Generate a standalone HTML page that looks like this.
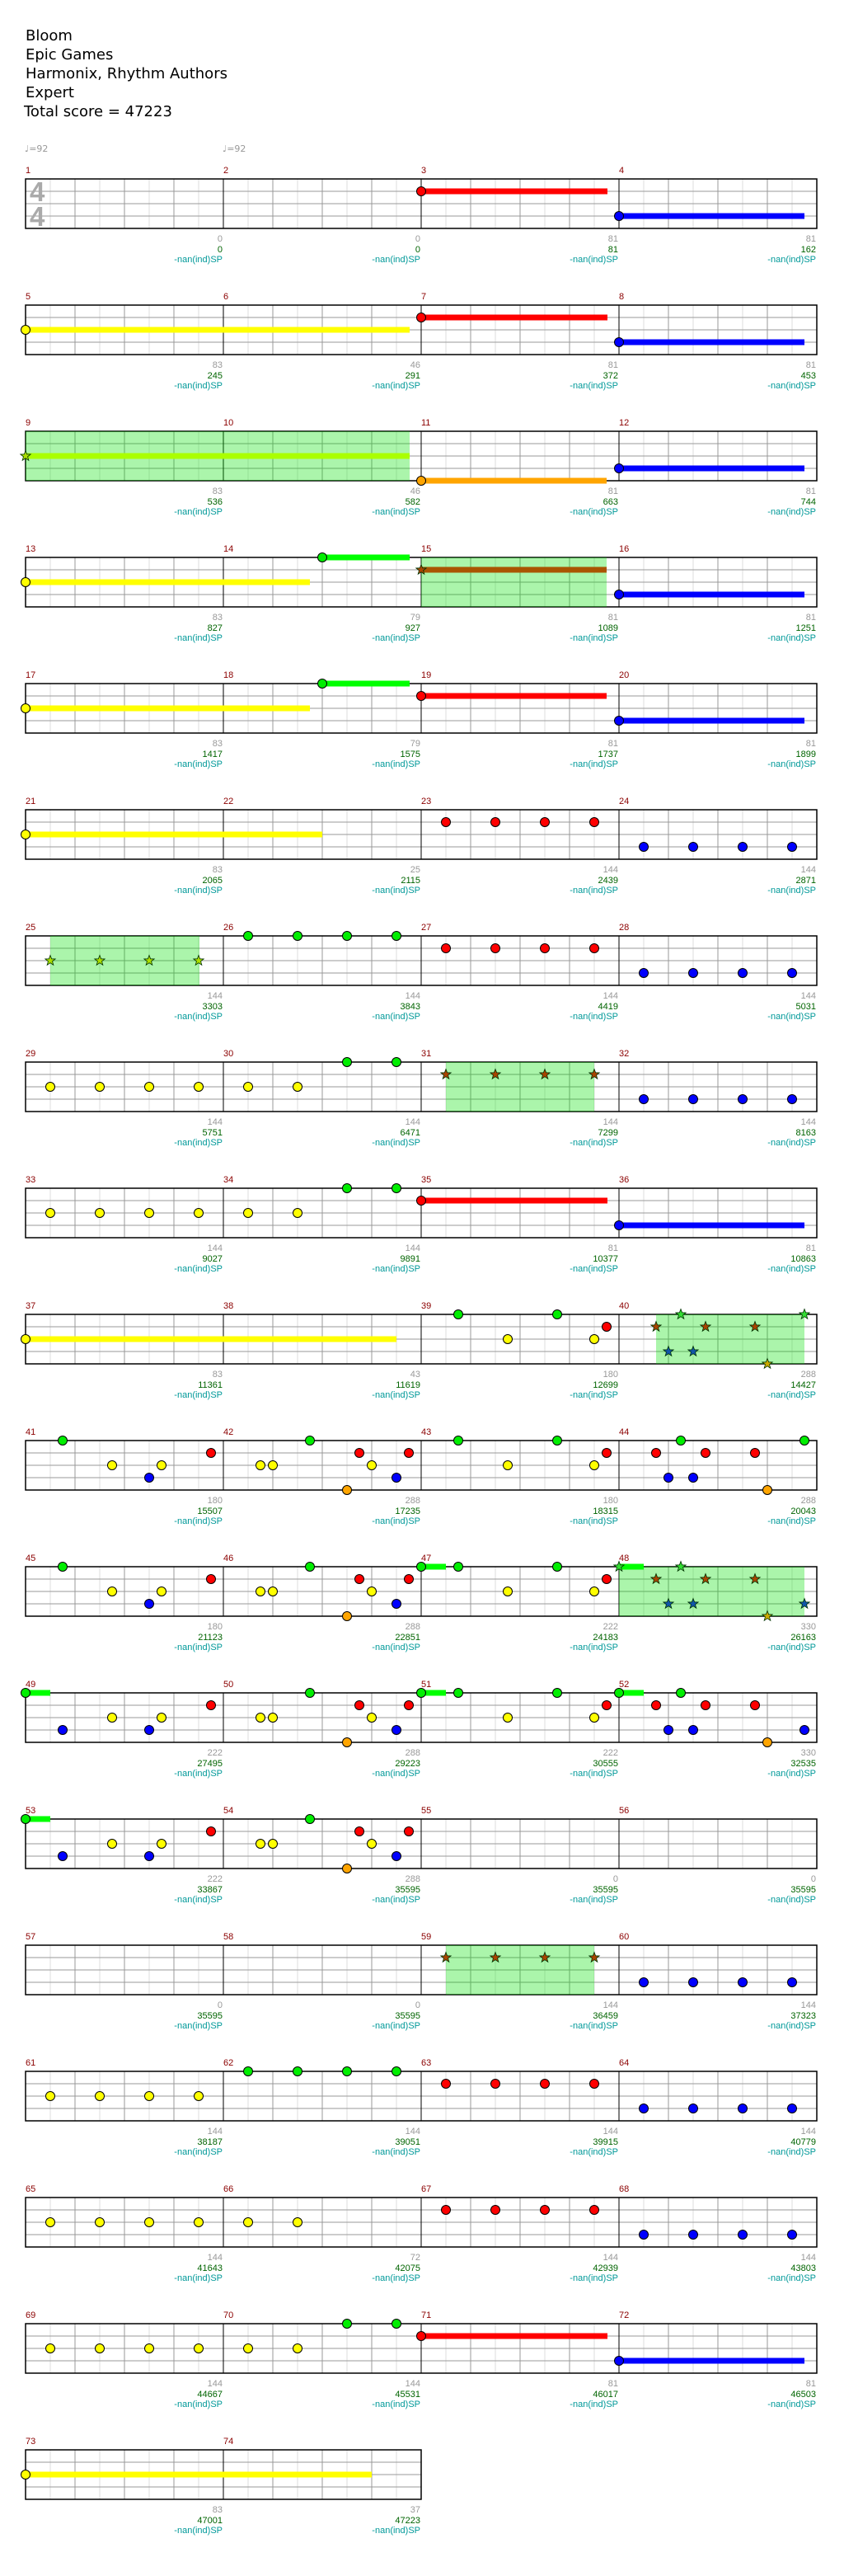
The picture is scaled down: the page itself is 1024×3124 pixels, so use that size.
<!DOCTYPE html>
<html><head><meta charset="utf-8"><style>
html,body{margin:0;padding:0;background:#fff}
svg{display:block}
.t{font-family:"DejaVu Sans","Liberation Sans",sans-serif;font-size:18px;fill:#000}
.mn{font-family:"Liberation Sans",sans-serif;font-size:11px;fill:#8b0000}
.g{font-family:"Liberation Sans",sans-serif;font-size:11px;fill:#999;text-anchor:end}
.s{font-family:"Liberation Sans",sans-serif;font-size:11px;fill:#006400;text-anchor:end}
.p{font-family:"Liberation Sans",sans-serif;font-size:11px;fill:#009999;text-anchor:end}
</style></head><body>
<svg width="1024" height="3124" viewBox="0 0 1024 3124" xmlns="http://www.w3.org/2000/svg">
<defs>
<g id="st4">
<path d="M61,0v60M121,0v60M181,0v60M241,0v60M301,0v60M361,0v60M421,0v60M481,0v60M541,0v60M601,0v60M661,0v60M721,0v60M781,0v60M841,0v60M901,0v60M961,0v60" stroke="#ddd" stroke-width="1"/>
<path d="M91,0v60M151,0v60M211,0v60M331,0v60M391,0v60M451,0v60M571,0v60M631,0v60M691,0v60M811,0v60M871,0v60M931,0v60M31,15H991M31,30H991M31,45H991" stroke="#999" stroke-width="1"/>
<path d="M271,0v60M511,0v60M751,0v60" stroke="#000" stroke-width="1"/>
<rect x="31" y="0" width="960" height="60" fill="none" stroke="#000" stroke-width="1.5"/>
</g>
<g id="st2">
<path d="M61,0v60M121,0v60M181,0v60M241,0v60M301,0v60M361,0v60M421,0v60M481,0v60" stroke="#ddd" stroke-width="1"/>
<path d="M91,0v60M151,0v60M211,0v60M331,0v60M391,0v60M451,0v60M31,15H511M31,30H511M31,45H511" stroke="#999" stroke-width="1"/>
<path d="M271,0v60" stroke="#000" stroke-width="1"/>
<rect x="31" y="0" width="480" height="60" fill="none" stroke="#000" stroke-width="1.5"/>
</g>
<circle id="G" r="5.5" fill="#00ee00" stroke="#000" stroke-width="1"/>
<circle id="R" r="5.5" fill="#ff0000" stroke="#000" stroke-width="1"/>
<circle id="Y" r="5.5" fill="#ffff00" stroke="#000" stroke-width="1"/>
<circle id="B" r="5.5" fill="#0000ff" stroke="#000" stroke-width="1"/>
<circle id="O" r="5.5" fill="#ffa500" stroke="#000" stroke-width="1"/>
<path id="star" d="M0,-6.5L1.59,-2.18 6.18,-2.01 2.57,0.83 3.82,5.26 0,2.7 -3.82,5.26 -2.57,0.83 -6.18,-2.01 -1.59,-2.18Z" stroke="#003300" stroke-width="0.8"/>
<g id="sG"><use href="#star" fill="#33dd33"/></g>
<g id="sR"><use href="#star" fill="#aa4400"/></g>
<g id="sY"><use href="#star" fill="#aadd00"/></g>
<g id="sB"><use href="#star" fill="#1155aa"/></g>
<g id="sO"><use href="#star" fill="#ccaa00"/></g>
<g id="p41"><use href="#G" x="76" y="0"/><use href="#Y" x="136" y="30"/><use href="#B" x="181" y="45"/><use href="#Y" x="196" y="30"/><use href="#R" x="256" y="15"/></g>
<g id="p42"><use href="#Y" x="316" y="30"/><use href="#Y" x="331" y="30"/><use href="#G" x="376" y="0"/><use href="#O" x="421" y="60"/><use href="#R" x="436" y="15"/><use href="#Y" x="451" y="30"/><use href="#B" x="481" y="45"/><use href="#R" x="496" y="15"/></g>
<g id="p43"><use href="#G" x="556" y="0"/><use href="#Y" x="616" y="30"/><use href="#G" x="676" y="0"/><use href="#Y" x="721" y="30"/><use href="#R" x="736" y="15"/></g>
<g id="p47"><rect x="511" y="-3.5" width="30" height="7" fill="#00ff00"/><use href="#G" x="511" y="0"/><use href="#p43"/></g>
<g id="p49"><rect x="31" y="-3.5" width="30" height="7" fill="#00ff00"/><use href="#G" x="31" y="0"/><use href="#B" x="76" y="45"/><use href="#Y" x="136" y="30"/><use href="#B" x="181" y="45"/><use href="#Y" x="196" y="30"/><use href="#R" x="256" y="15"/></g>
</defs>

<text class="t" x="31" y="49">Bloom</text>
<text class="t" x="31" y="72">Epic Games</text>
<text class="t" x="31" y="95">Harmonix, Rhythm Authors</text>
<text class="t" x="31" y="118">Expert</text>
<text class="t" x="29" y="141">Total score = 47223</text>
<text x="30" y="184" font-family="DejaVu Sans,sans-serif" font-size="11" fill="#999">♩=92</text>
<text x="270" y="184" font-family="DejaVu Sans,sans-serif" font-size="11" fill="#999">♩=92</text>

<!-- Row 0 -->
<g transform="translate(0,217)">
<use href="#st4"/>
<text x="36" y="27" font-family="Liberation Sans,sans-serif" font-weight="bold" font-size="33" fill="#aaa">4</text>
<text x="36" y="57" font-family="Liberation Sans,sans-serif" font-weight="bold" font-size="33" fill="#aaa">4</text>
<rect x="511" y="11.5" width="226" height="7" fill="#f00"/><use href="#R" x="511" y="15"/>
<rect x="751" y="41.5" width="225" height="7" fill="#00f"/><use href="#B" x="751" y="45"/>
<text class="mn" x="31" y="-7">1</text><text class="mn" x="271" y="-7">2</text><text class="mn" x="511" y="-7">3</text><text class="mn" x="751" y="-7">4</text>
<text class="g" x="270" y="76">0</text><text class="s" x="270" y="89">0</text><text class="p" x="270" y="101">-nan(ind)SP</text>
<text class="g" x="510" y="76">0</text><text class="s" x="510" y="89">0</text><text class="p" x="510" y="101">-nan(ind)SP</text>
<text class="g" x="750" y="76">81</text><text class="s" x="750" y="89">81</text><text class="p" x="750" y="101">-nan(ind)SP</text>
<text class="g" x="990" y="76">81</text><text class="s" x="990" y="89">162</text><text class="p" x="990" y="101">-nan(ind)SP</text>
</g>

<!-- Row 1 -->
<g transform="translate(0,370)">
<use href="#st4"/>
<rect x="31" y="26.5" width="466" height="7" fill="#ff0"/><use href="#Y" x="31" y="30"/>
<rect x="511" y="11.5" width="226" height="7" fill="#f00"/><use href="#R" x="511" y="15"/>
<rect x="751" y="41.5" width="225" height="7" fill="#00f"/><use href="#B" x="751" y="45"/>
<text class="mn" x="31" y="-7">5</text><text class="mn" x="271" y="-7">6</text><text class="mn" x="511" y="-7">7</text><text class="mn" x="751" y="-7">8</text>
<text class="g" x="270" y="76">83</text><text class="s" x="270" y="89">245</text><text class="p" x="270" y="101">-nan(ind)SP</text>
<text class="g" x="510" y="76">46</text><text class="s" x="510" y="89">291</text><text class="p" x="510" y="101">-nan(ind)SP</text>
<text class="g" x="750" y="76">81</text><text class="s" x="750" y="89">372</text><text class="p" x="750" y="101">-nan(ind)SP</text>
<text class="g" x="990" y="76">81</text><text class="s" x="990" y="89">453</text><text class="p" x="990" y="101">-nan(ind)SP</text>
</g>

<!-- Row 2 -->
<g transform="translate(0,523)">
<use href="#st4"/>
<rect x="31" y="0" width="466" height="60" fill="#00e000" fill-opacity="0.33"/>
<rect x="31" y="26.5" width="466" height="7" fill="#aaff00"/><use href="#sY" x="31" y="30"/>
<rect x="511" y="56.5" width="225" height="7" fill="#ffa500"/><use href="#O" x="511" y="60"/>
<rect x="751" y="41.5" width="225" height="7" fill="#00f"/><use href="#B" x="751" y="45"/>
<text class="mn" x="31" y="-7">9</text><text class="mn" x="271" y="-7">10</text><text class="mn" x="511" y="-7">11</text><text class="mn" x="751" y="-7">12</text>
<text class="g" x="270" y="76">83</text><text class="s" x="270" y="89">536</text><text class="p" x="270" y="101">-nan(ind)SP</text>
<text class="g" x="510" y="76">46</text><text class="s" x="510" y="89">582</text><text class="p" x="510" y="101">-nan(ind)SP</text>
<text class="g" x="750" y="76">81</text><text class="s" x="750" y="89">663</text><text class="p" x="750" y="101">-nan(ind)SP</text>
<text class="g" x="990" y="76">81</text><text class="s" x="990" y="89">744</text><text class="p" x="990" y="101">-nan(ind)SP</text>
</g>

<!-- Row 3 -->
<g transform="translate(0,676)">
<use href="#st4"/>
<rect x="511" y="0" width="225" height="60" fill="#00e000" fill-opacity="0.33"/>
<rect x="31" y="26.5" width="345" height="7" fill="#ff0"/><use href="#Y" x="31" y="30"/>
<rect x="391" y="-3.5" width="106" height="7" fill="#00ff00"/><use href="#G" x="391" y="0"/>
<rect x="511" y="11.5" width="225" height="7" fill="#aa5500"/><use href="#sR" x="511" y="15"/>
<rect x="751" y="41.5" width="225" height="7" fill="#00f"/><use href="#B" x="751" y="45"/>
<text class="mn" x="31" y="-7">13</text><text class="mn" x="271" y="-7">14</text><text class="mn" x="511" y="-7">15</text><text class="mn" x="751" y="-7">16</text>
<text class="g" x="270" y="76">83</text><text class="s" x="270" y="89">827</text><text class="p" x="270" y="101">-nan(ind)SP</text>
<text class="g" x="510" y="76">79</text><text class="s" x="510" y="89">927</text><text class="p" x="510" y="101">-nan(ind)SP</text>
<text class="g" x="750" y="76">81</text><text class="s" x="750" y="89">1089</text><text class="p" x="750" y="101">-nan(ind)SP</text>
<text class="g" x="990" y="76">81</text><text class="s" x="990" y="89">1251</text><text class="p" x="990" y="101">-nan(ind)SP</text>
</g>

<!-- Row 4 -->
<g transform="translate(0,829)">
<use href="#st4"/>
<rect x="31" y="26.5" width="345" height="7" fill="#ff0"/><use href="#Y" x="31" y="30"/>
<rect x="391" y="-3.5" width="106" height="7" fill="#00ff00"/><use href="#G" x="391" y="0"/>
<rect x="511" y="11.5" width="225" height="7" fill="#f00"/><use href="#R" x="511" y="15"/>
<rect x="751" y="41.5" width="225" height="7" fill="#00f"/><use href="#B" x="751" y="45"/>
<text class="mn" x="31" y="-7">17</text><text class="mn" x="271" y="-7">18</text><text class="mn" x="511" y="-7">19</text><text class="mn" x="751" y="-7">20</text>
<text class="g" x="270" y="76">83</text><text class="s" x="270" y="89">1417</text><text class="p" x="270" y="101">-nan(ind)SP</text>
<text class="g" x="510" y="76">79</text><text class="s" x="510" y="89">1575</text><text class="p" x="510" y="101">-nan(ind)SP</text>
<text class="g" x="750" y="76">81</text><text class="s" x="750" y="89">1737</text><text class="p" x="750" y="101">-nan(ind)SP</text>
<text class="g" x="990" y="76">81</text><text class="s" x="990" y="89">1899</text><text class="p" x="990" y="101">-nan(ind)SP</text>
</g>

<!-- Row 5 -->
<g transform="translate(0,982)">
<use href="#st4"/>
<rect x="31" y="26.5" width="360" height="7" fill="#ff0"/><use href="#Y" x="31" y="30"/>
<use href="#R" x="541" y="15"/><use href="#R" x="601" y="15"/><use href="#R" x="661" y="15"/><use href="#R" x="721" y="15"/>
<use href="#B" x="781" y="45"/><use href="#B" x="841" y="45"/><use href="#B" x="901" y="45"/><use href="#B" x="961" y="45"/>
<text class="mn" x="31" y="-7">21</text><text class="mn" x="271" y="-7">22</text><text class="mn" x="511" y="-7">23</text><text class="mn" x="751" y="-7">24</text>
<text class="g" x="270" y="76">83</text><text class="s" x="270" y="89">2065</text><text class="p" x="270" y="101">-nan(ind)SP</text>
<text class="g" x="510" y="76">25</text><text class="s" x="510" y="89">2115</text><text class="p" x="510" y="101">-nan(ind)SP</text>
<text class="g" x="750" y="76">144</text><text class="s" x="750" y="89">2439</text><text class="p" x="750" y="101">-nan(ind)SP</text>
<text class="g" x="990" y="76">144</text><text class="s" x="990" y="89">2871</text><text class="p" x="990" y="101">-nan(ind)SP</text>
</g>

<!-- Row 6 -->
<g transform="translate(0,1135)">
<use href="#st4"/>
<rect x="61" y="0" width="181" height="60" fill="#00e000" fill-opacity="0.33"/>
<use href="#sY" x="61" y="30"/><use href="#sY" x="121" y="30"/><use href="#sY" x="181" y="30"/><use href="#sY" x="241" y="30"/>
<use href="#G" x="301" y="0"/><use href="#G" x="361" y="0"/><use href="#G" x="421" y="0"/><use href="#G" x="481" y="0"/>
<use href="#R" x="541" y="15"/><use href="#R" x="601" y="15"/><use href="#R" x="661" y="15"/><use href="#R" x="721" y="15"/>
<use href="#B" x="781" y="45"/><use href="#B" x="841" y="45"/><use href="#B" x="901" y="45"/><use href="#B" x="961" y="45"/>
<text class="mn" x="31" y="-7">25</text><text class="mn" x="271" y="-7">26</text><text class="mn" x="511" y="-7">27</text><text class="mn" x="751" y="-7">28</text>
<text class="g" x="270" y="76">144</text><text class="s" x="270" y="89">3303</text><text class="p" x="270" y="101">-nan(ind)SP</text>
<text class="g" x="510" y="76">144</text><text class="s" x="510" y="89">3843</text><text class="p" x="510" y="101">-nan(ind)SP</text>
<text class="g" x="750" y="76">144</text><text class="s" x="750" y="89">4419</text><text class="p" x="750" y="101">-nan(ind)SP</text>
<text class="g" x="990" y="76">144</text><text class="s" x="990" y="89">5031</text><text class="p" x="990" y="101">-nan(ind)SP</text>
</g>

<!-- Row 7 -->
<g transform="translate(0,1288)">
<use href="#st4"/>
<rect x="541" y="0" width="180" height="60" fill="#00e000" fill-opacity="0.33"/>
<use href="#Y" x="61" y="30"/><use href="#Y" x="121" y="30"/><use href="#Y" x="181" y="30"/><use href="#Y" x="241" y="30"/><use href="#Y" x="301" y="30"/><use href="#Y" x="361" y="30"/>
<use href="#G" x="421" y="0"/><use href="#G" x="481" y="0"/>
<use href="#sR" x="541" y="15"/><use href="#sR" x="601" y="15"/><use href="#sR" x="661" y="15"/><use href="#sR" x="721" y="15"/>
<use href="#B" x="781" y="45"/><use href="#B" x="841" y="45"/><use href="#B" x="901" y="45"/><use href="#B" x="961" y="45"/>
<text class="mn" x="31" y="-7">29</text><text class="mn" x="271" y="-7">30</text><text class="mn" x="511" y="-7">31</text><text class="mn" x="751" y="-7">32</text>
<text class="g" x="270" y="76">144</text><text class="s" x="270" y="89">5751</text><text class="p" x="270" y="101">-nan(ind)SP</text>
<text class="g" x="510" y="76">144</text><text class="s" x="510" y="89">6471</text><text class="p" x="510" y="101">-nan(ind)SP</text>
<text class="g" x="750" y="76">144</text><text class="s" x="750" y="89">7299</text><text class="p" x="750" y="101">-nan(ind)SP</text>
<text class="g" x="990" y="76">144</text><text class="s" x="990" y="89">8163</text><text class="p" x="990" y="101">-nan(ind)SP</text>
</g>

<!-- Row 8 -->
<g transform="translate(0,1441)">
<use href="#st4"/>
<use href="#Y" x="61" y="30"/><use href="#Y" x="121" y="30"/><use href="#Y" x="181" y="30"/><use href="#Y" x="241" y="30"/><use href="#Y" x="301" y="30"/><use href="#Y" x="361" y="30"/>
<use href="#G" x="421" y="0"/><use href="#G" x="481" y="0"/>
<rect x="511" y="11.5" width="226" height="7" fill="#f00"/><use href="#R" x="511" y="15"/>
<rect x="751" y="41.5" width="225" height="7" fill="#00f"/><use href="#B" x="751" y="45"/>
<text class="mn" x="31" y="-7">33</text><text class="mn" x="271" y="-7">34</text><text class="mn" x="511" y="-7">35</text><text class="mn" x="751" y="-7">36</text>
<text class="g" x="270" y="76">144</text><text class="s" x="270" y="89">9027</text><text class="p" x="270" y="101">-nan(ind)SP</text>
<text class="g" x="510" y="76">144</text><text class="s" x="510" y="89">9891</text><text class="p" x="510" y="101">-nan(ind)SP</text>
<text class="g" x="750" y="76">81</text><text class="s" x="750" y="89">10377</text><text class="p" x="750" y="101">-nan(ind)SP</text>
<text class="g" x="990" y="76">81</text><text class="s" x="990" y="89">10863</text><text class="p" x="990" y="101">-nan(ind)SP</text>
</g>

<!-- Row 9 -->
<g transform="translate(0,1594)">
<use href="#st4"/>
<rect x="796" y="0" width="180" height="60" fill="#00e000" fill-opacity="0.33"/>
<rect x="31" y="26.5" width="450" height="7" fill="#ff0"/><use href="#Y" x="31" y="30"/>
<use href="#p43"/>
<use href="#sR" x="796" y="15"/><use href="#sB" x="811" y="45"/><use href="#sG" x="826" y="0"/><use href="#sB" x="841" y="45"/><use href="#sR" x="856" y="15"/><use href="#sR" x="916" y="15"/><use href="#sO" x="931" y="60"/><use href="#sG" x="976" y="0"/>
<text class="mn" x="31" y="-7">37</text><text class="mn" x="271" y="-7">38</text><text class="mn" x="511" y="-7">39</text><text class="mn" x="751" y="-7">40</text>
<text class="g" x="270" y="76">83</text><text class="s" x="270" y="89">11361</text><text class="p" x="270" y="101">-nan(ind)SP</text>
<text class="g" x="510" y="76">43</text><text class="s" x="510" y="89">11619</text><text class="p" x="510" y="101">-nan(ind)SP</text>
<text class="g" x="750" y="76">180</text><text class="s" x="750" y="89">12699</text><text class="p" x="750" y="101">-nan(ind)SP</text>
<text class="g" x="990" y="76">288</text><text class="s" x="990" y="89">14427</text><text class="p" x="990" y="101">-nan(ind)SP</text>
</g>

<!-- Row 10 -->
<g transform="translate(0,1747)">
<use href="#st4"/>
<use href="#p41"/><use href="#p42"/><use href="#p43"/>
<use href="#R" x="796" y="15"/><use href="#B" x="811" y="45"/><use href="#G" x="826" y="0"/><use href="#B" x="841" y="45"/><use href="#R" x="856" y="15"/><use href="#R" x="916" y="15"/><use href="#O" x="931" y="60"/><use href="#G" x="976" y="0"/>
<text class="mn" x="31" y="-7">41</text><text class="mn" x="271" y="-7">42</text><text class="mn" x="511" y="-7">43</text><text class="mn" x="751" y="-7">44</text>
<text class="g" x="270" y="76">180</text><text class="s" x="270" y="89">15507</text><text class="p" x="270" y="101">-nan(ind)SP</text>
<text class="g" x="510" y="76">288</text><text class="s" x="510" y="89">17235</text><text class="p" x="510" y="101">-nan(ind)SP</text>
<text class="g" x="750" y="76">180</text><text class="s" x="750" y="89">18315</text><text class="p" x="750" y="101">-nan(ind)SP</text>
<text class="g" x="990" y="76">288</text><text class="s" x="990" y="89">20043</text><text class="p" x="990" y="101">-nan(ind)SP</text>
</g>

<!-- Row 11 -->
<g transform="translate(0,1900)">
<use href="#st4"/>
<rect x="751" y="0" width="225" height="60" fill="#00e000" fill-opacity="0.33"/>
<use href="#p41"/><use href="#p42"/><use href="#p47"/>
<rect x="751" y="-3.5" width="30" height="7" fill="#00ff00"/><use href="#sG" x="751" y="0"/>
<use href="#sR" x="796" y="15"/><use href="#sB" x="811" y="45"/><use href="#sG" x="826" y="0"/><use href="#sB" x="841" y="45"/><use href="#sR" x="856" y="15"/><use href="#sR" x="916" y="15"/><use href="#sO" x="931" y="60"/><use href="#sB" x="976" y="45"/>
<text class="mn" x="31" y="-7">45</text><text class="mn" x="271" y="-7">46</text><text class="mn" x="511" y="-7">47</text><text class="mn" x="751" y="-7">48</text>
<text class="g" x="270" y="76">180</text><text class="s" x="270" y="89">21123</text><text class="p" x="270" y="101">-nan(ind)SP</text>
<text class="g" x="510" y="76">288</text><text class="s" x="510" y="89">22851</text><text class="p" x="510" y="101">-nan(ind)SP</text>
<text class="g" x="750" y="76">222</text><text class="s" x="750" y="89">24183</text><text class="p" x="750" y="101">-nan(ind)SP</text>
<text class="g" x="990" y="76">330</text><text class="s" x="990" y="89">26163</text><text class="p" x="990" y="101">-nan(ind)SP</text>
</g>

<!-- Row 12 -->
<g transform="translate(0,2053)">
<use href="#st4"/>
<use href="#p49"/><use href="#p42"/><use href="#p47"/>
<rect x="751" y="-3.5" width="30" height="7" fill="#00ff00"/><use href="#G" x="751" y="0"/>
<use href="#R" x="796" y="15"/><use href="#B" x="811" y="45"/><use href="#G" x="826" y="0"/><use href="#B" x="841" y="45"/><use href="#R" x="856" y="15"/><use href="#R" x="916" y="15"/><use href="#O" x="931" y="60"/><use href="#B" x="976" y="45"/>
<text class="mn" x="31" y="-7">49</text><text class="mn" x="271" y="-7">50</text><text class="mn" x="511" y="-7">51</text><text class="mn" x="751" y="-7">52</text>
<text class="g" x="270" y="76">222</text><text class="s" x="270" y="89">27495</text><text class="p" x="270" y="101">-nan(ind)SP</text>
<text class="g" x="510" y="76">288</text><text class="s" x="510" y="89">29223</text><text class="p" x="510" y="101">-nan(ind)SP</text>
<text class="g" x="750" y="76">222</text><text class="s" x="750" y="89">30555</text><text class="p" x="750" y="101">-nan(ind)SP</text>
<text class="g" x="990" y="76">330</text><text class="s" x="990" y="89">32535</text><text class="p" x="990" y="101">-nan(ind)SP</text>
</g>

<!-- Row 13 -->
<g transform="translate(0,2206)">
<use href="#st4"/>
<use href="#p49"/><use href="#p42"/>
<text class="mn" x="31" y="-7">53</text><text class="mn" x="271" y="-7">54</text><text class="mn" x="511" y="-7">55</text><text class="mn" x="751" y="-7">56</text>
<text class="g" x="270" y="76">222</text><text class="s" x="270" y="89">33867</text><text class="p" x="270" y="101">-nan(ind)SP</text>
<text class="g" x="510" y="76">288</text><text class="s" x="510" y="89">35595</text><text class="p" x="510" y="101">-nan(ind)SP</text>
<text class="g" x="750" y="76">0</text><text class="s" x="750" y="89">35595</text><text class="p" x="750" y="101">-nan(ind)SP</text>
<text class="g" x="990" y="76">0</text><text class="s" x="990" y="89">35595</text><text class="p" x="990" y="101">-nan(ind)SP</text>
</g>

<!-- Row 14 -->
<g transform="translate(0,2359)">
<use href="#st4"/>
<rect x="541" y="0" width="180" height="60" fill="#00e000" fill-opacity="0.33"/>
<use href="#sR" x="541" y="15"/><use href="#sR" x="601" y="15"/><use href="#sR" x="661" y="15"/><use href="#sR" x="721" y="15"/>
<use href="#B" x="781" y="45"/><use href="#B" x="841" y="45"/><use href="#B" x="901" y="45"/><use href="#B" x="961" y="45"/>
<text class="mn" x="31" y="-7">57</text><text class="mn" x="271" y="-7">58</text><text class="mn" x="511" y="-7">59</text><text class="mn" x="751" y="-7">60</text>
<text class="g" x="270" y="76">0</text><text class="s" x="270" y="89">35595</text><text class="p" x="270" y="101">-nan(ind)SP</text>
<text class="g" x="510" y="76">0</text><text class="s" x="510" y="89">35595</text><text class="p" x="510" y="101">-nan(ind)SP</text>
<text class="g" x="750" y="76">144</text><text class="s" x="750" y="89">36459</text><text class="p" x="750" y="101">-nan(ind)SP</text>
<text class="g" x="990" y="76">144</text><text class="s" x="990" y="89">37323</text><text class="p" x="990" y="101">-nan(ind)SP</text>
</g>

<!-- Row 15 -->
<g transform="translate(0,2512)">
<use href="#st4"/>
<use href="#Y" x="61" y="30"/><use href="#Y" x="121" y="30"/><use href="#Y" x="181" y="30"/><use href="#Y" x="241" y="30"/>
<use href="#G" x="301" y="0"/><use href="#G" x="361" y="0"/><use href="#G" x="421" y="0"/><use href="#G" x="481" y="0"/>
<use href="#R" x="541" y="15"/><use href="#R" x="601" y="15"/><use href="#R" x="661" y="15"/><use href="#R" x="721" y="15"/>
<use href="#B" x="781" y="45"/><use href="#B" x="841" y="45"/><use href="#B" x="901" y="45"/><use href="#B" x="961" y="45"/>
<text class="mn" x="31" y="-7">61</text><text class="mn" x="271" y="-7">62</text><text class="mn" x="511" y="-7">63</text><text class="mn" x="751" y="-7">64</text>
<text class="g" x="270" y="76">144</text><text class="s" x="270" y="89">38187</text><text class="p" x="270" y="101">-nan(ind)SP</text>
<text class="g" x="510" y="76">144</text><text class="s" x="510" y="89">39051</text><text class="p" x="510" y="101">-nan(ind)SP</text>
<text class="g" x="750" y="76">144</text><text class="s" x="750" y="89">39915</text><text class="p" x="750" y="101">-nan(ind)SP</text>
<text class="g" x="990" y="76">144</text><text class="s" x="990" y="89">40779</text><text class="p" x="990" y="101">-nan(ind)SP</text>
</g>

<!-- Row 16 -->
<g transform="translate(0,2665)">
<use href="#st4"/>
<use href="#Y" x="61" y="30"/><use href="#Y" x="121" y="30"/><use href="#Y" x="181" y="30"/><use href="#Y" x="241" y="30"/><use href="#Y" x="301" y="30"/><use href="#Y" x="361" y="30"/>
<use href="#R" x="541" y="15"/><use href="#R" x="601" y="15"/><use href="#R" x="661" y="15"/><use href="#R" x="721" y="15"/>
<use href="#B" x="781" y="45"/><use href="#B" x="841" y="45"/><use href="#B" x="901" y="45"/><use href="#B" x="961" y="45"/>
<text class="mn" x="31" y="-7">65</text><text class="mn" x="271" y="-7">66</text><text class="mn" x="511" y="-7">67</text><text class="mn" x="751" y="-7">68</text>
<text class="g" x="270" y="76">144</text><text class="s" x="270" y="89">41643</text><text class="p" x="270" y="101">-nan(ind)SP</text>
<text class="g" x="510" y="76">72</text><text class="s" x="510" y="89">42075</text><text class="p" x="510" y="101">-nan(ind)SP</text>
<text class="g" x="750" y="76">144</text><text class="s" x="750" y="89">42939</text><text class="p" x="750" y="101">-nan(ind)SP</text>
<text class="g" x="990" y="76">144</text><text class="s" x="990" y="89">43803</text><text class="p" x="990" y="101">-nan(ind)SP</text>
</g>

<!-- Row 17 -->
<g transform="translate(0,2818)">
<use href="#st4"/>
<use href="#Y" x="61" y="30"/><use href="#Y" x="121" y="30"/><use href="#Y" x="181" y="30"/><use href="#Y" x="241" y="30"/><use href="#Y" x="301" y="30"/><use href="#Y" x="361" y="30"/>
<use href="#G" x="421" y="0"/><use href="#G" x="481" y="0"/>
<rect x="511" y="11.5" width="226" height="7" fill="#f00"/><use href="#R" x="511" y="15"/>
<rect x="751" y="41.5" width="225" height="7" fill="#00f"/><use href="#B" x="751" y="45"/>
<text class="mn" x="31" y="-7">69</text><text class="mn" x="271" y="-7">70</text><text class="mn" x="511" y="-7">71</text><text class="mn" x="751" y="-7">72</text>
<text class="g" x="270" y="76">144</text><text class="s" x="270" y="89">44667</text><text class="p" x="270" y="101">-nan(ind)SP</text>
<text class="g" x="510" y="76">144</text><text class="s" x="510" y="89">45531</text><text class="p" x="510" y="101">-nan(ind)SP</text>
<text class="g" x="750" y="76">81</text><text class="s" x="750" y="89">46017</text><text class="p" x="750" y="101">-nan(ind)SP</text>
<text class="g" x="990" y="76">81</text><text class="s" x="990" y="89">46503</text><text class="p" x="990" y="101">-nan(ind)SP</text>
</g>

<!-- Row 18 -->
<g transform="translate(0,2971)">
<use href="#st2"/>
<rect x="31" y="26.5" width="420" height="7" fill="#ff0"/><use href="#Y" x="31" y="30"/>
<text class="mn" x="31" y="-7">73</text><text class="mn" x="271" y="-7">74</text>
<text class="g" x="270" y="76">83</text><text class="s" x="270" y="89">47001</text><text class="p" x="270" y="101">-nan(ind)SP</text>
<text class="g" x="510" y="76">37</text><text class="s" x="510" y="89">47223</text><text class="p" x="510" y="101">-nan(ind)SP</text>
</g>
</svg>
</body></html>
